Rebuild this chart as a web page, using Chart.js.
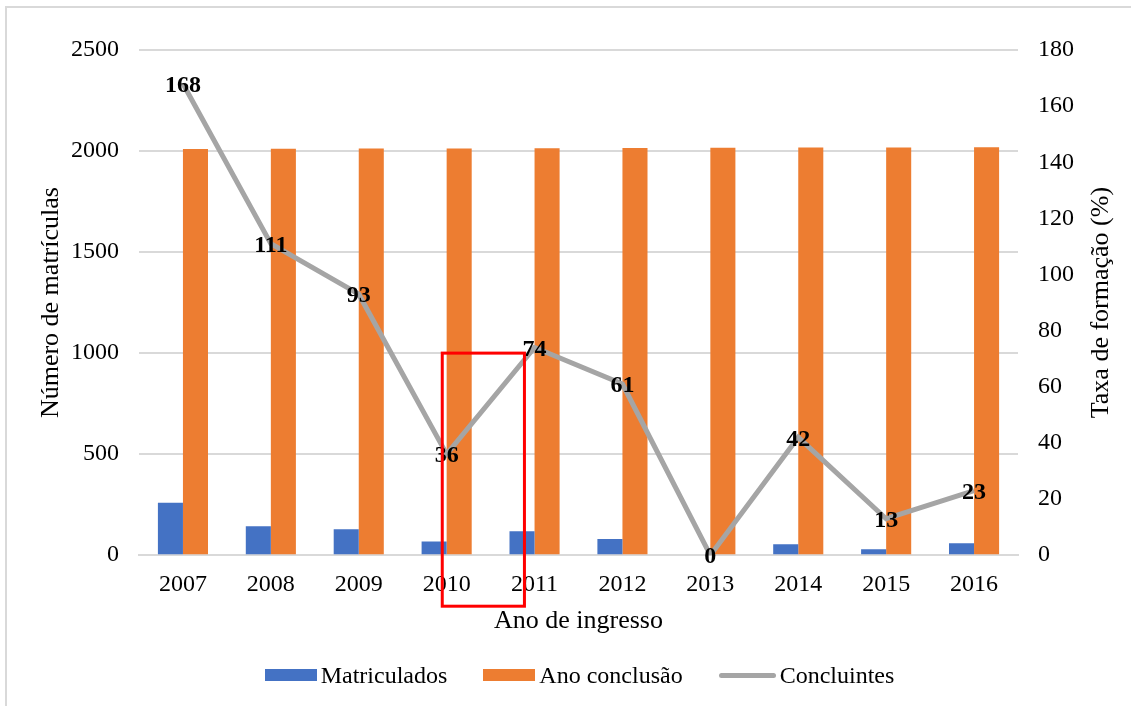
<!DOCTYPE html>
<html>
<head>
<meta charset="utf-8">
<script src="https://cdn.jsdelivr.net/npm/chart.js@4"></script>
<style>
  html, body { margin: 0; padding: 0; background: #fff; }
  #wrap { position: relative; width: 1131px; height: 706px; overflow: hidden; }
  #frame { position: absolute; left: 5px; top: 6px; width: 1140px; height: 720px;
           border-left: 2px solid #d9d9d9; border-top: 2px solid #d9d9d9; }
  #chart { position: absolute; left: 0; top: 0; }
  #legend { position: absolute; left: 14px; top: 661px; width: 1131px; height: 28px; display: flex;
            justify-content: center; align-items: center;
            font-family: "Liberation Serif", serif; font-size: 24px; color: #000; }
  #legend span.item { display: flex; align-items: center; margin: 0 18px; }
  #legend i { display: inline-block; margin-right: 4px; }
</style>
</head>
<body>
<div id="wrap">
  <div id="frame"></div>
  <canvas id="chart" width="1131" height="706"></canvas>
  <div id="legend">
    <span class="item"><i style="width:52px;height:12px;background:#4472C4"></i>Matriculados</span>
    <span class="item"><i style="width:52px;height:12px;background:#ED7D31"></i>Ano conclusão</span>
    <span class="item"><i style="width:57px;height:5px;border-radius:3px;background:#A5A5A5"></i>Concluintes</span>
  </div>
</div>
<script>
var anos = ['2007', '2008', '2009', '2010', '2011', '2012', '2013', '2014', '2015', '2016'];
var matriculados = [260, 143, 128, 68, 118, 80, 0, 54, 30, 59];
var anoConclusao = [2010, 2011, 2012, 2013, 2014, 2015, 2016, 2017, 2018, 2019];
var concluintes = [168, 111, 93, 36, 74, 61, 0, 42, 13, 23];

var serif = '"Liberation Serif", "Times New Roman", serif';

var pointLabels = {
    id: 'pointLabels',
    afterDatasetsDraw: function (chart) {
        var ctx = chart.ctx;
        var meta = chart.getDatasetMeta(2);
        ctx.save();
        ctx.font = 'bold 24px ' + serif;
        ctx.fillStyle = '#000';
        ctx.textAlign = 'center';
        ctx.textBaseline = 'middle';
        meta.data.forEach(function (pt, i) {
            ctx.fillText(concluintes[i], pt.x, pt.y + 2);
        });
        ctx.restore();
    }
};

function drawText(ctx, text, x, y, rot) {
    ctx.save();
    ctx.translate(x, y);
    ctx.rotate(rot);
    ctx.font = '26px ' + serif;
    ctx.fillStyle = '#000';
    ctx.textAlign = 'center';
    ctx.textBaseline = 'middle';
    ctx.fillText(text, 0, 0);
    ctx.restore();
}

// axis titles and the red highlight box around 2010-2011
var extras = {
    id: 'extras',
    afterDraw: function (chart) {
        var x = chart.scales.x;
        var y = chart.scales.y;
        var y1 = chart.scales.y1;
        var area = chart.chartArea;
        var ctx = chart.ctx;
        var midY = (area.top + area.bottom) / 2;

        drawText(ctx, 'Número de matrículas', y.left, midY, -Math.PI / 2);
        drawText(ctx, 'Taxa de formação (%)', y1.right + 7, midY, -Math.PI / 2);
        drawText(ctx, 'Ano de ingresso', (area.left + area.right) / 2, area.bottom + 66, 0);

        var left = x.getPixelForValue(2.95);
        var right = x.getPixelForValue(3.885);
        var top = y.getPixelForValue(1000);
        var bottom = area.bottom + 51;
        ctx.save();
        ctx.strokeStyle = '#FF0000';
        ctx.lineWidth = 3;
        ctx.strokeRect(left, top, right - left, bottom - top);
        ctx.restore();
    }
};

var config = {
    data: {
        labels: anos,
        datasets: [{
            type: 'bar',
            label: 'Matriculados',
            data: matriculados,
            backgroundColor: '#4472C4',
            yAxisID: 'y',
            order: 2
        }, {
            type: 'bar',
            label: 'Ano conclusão',
            data: anoConclusao,
            backgroundColor: '#ED7D31',
            yAxisID: 'y',
            order: 2
        }, {
            type: 'line',
            label: 'Concluintes',
            data: concluintes,
            borderColor: '#A5A5A5',
            borderWidth: 5,
            pointRadius: 0,
            tension: 0,
            yAxisID: 'y1',
            order: 1
        }]
    },
    options: {
        responsive: false,
        animation: false,
        datasets: {
            bar: { categoryPercentage: 0.57, barPercentage: 1.0 }
        },
        layout: { padding: { left: 51, right: 37, top: 50, bottom: 92 } },
        plugins: {
            legend: { display: false },
            tooltip: { enabled: false }
        },
        scales: {
            x: {
                grid: { display: false, drawTicks: false },
                border: { color: '#d9d9d9', width: 2 },
                ticks: { color: '#000', font: { family: serif, size: 24 }, padding: 15 }
            },
            y: {
                position: 'left',
                min: 0,
                max: 2500,
                ticks: {
                    stepSize: 500, color: '#000', font: { family: serif, size: 24 }, padding: 20,
                    callback: function (v) { return String(v); }
                },
                grid: { color: '#d9d9d9', lineWidth: 2, drawTicks: false },
                border: { display: false }
            },
            y1: {
                position: 'right',
                min: 0,
                max: 180,
                ticks: { stepSize: 20, color: '#000', font: { family: serif, size: 24 }, padding: 20 },
                grid: { display: false, drawTicks: false },
                border: { display: false }
            }
        }
    },
    plugins: [pointLabels, extras]
};

var ctx = document.getElementById('chart').getContext('2d');
new Chart(ctx, config);
</script>
</body>
</html>
